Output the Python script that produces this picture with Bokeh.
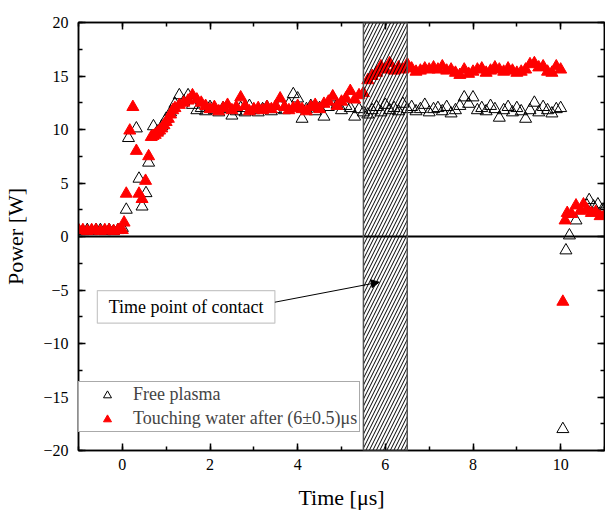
from bokeh.plotting import figure
from bokeh.models import (Range1d, LinearAxis, SingleIntervalTicker, Span, BoxAnnotation,
                          Label, Arrow, NormalHead, Legend, LegendItem)
from bokeh.embed import file_html
from bokeh.resources import INLINE

# ---------------- data ----------------
free_t = [-1.0, -0.9, -0.8, -0.7, -0.6, -0.5, -0.4, -0.3, -0.2, -0.1, 0.0,
          0.09, 0.14, 0.32, 0.38, 0.45, 0.54, 0.6, 0.71, 0.8, 0.9, 1.0, 1.1, 1.2, 1.3, 1.4, 1.5, 1.6, 1.7,
          1.8, 1.9, 2.0, 2.1, 2.2, 2.3, 2.4, 2.5, 2.6, 2.7, 2.8, 2.9, 3.0, 3.1, 3.2, 3.3, 3.4, 3.5, 3.6, 3.7,
          3.8, 3.9, 4.0, 4.1, 4.2, 4.3, 4.4, 4.5, 4.6, 4.7, 4.8, 4.9, 5.0, 5.1, 5.2, 5.3, 5.4, 5.5, 5.6, 5.7,
          5.8, 5.9, 6.0, 6.1, 6.2, 6.3, 6.4, 6.5, 6.6, 6.7, 6.8, 6.9, 7.0, 7.1, 7.2, 7.3, 7.4, 7.5, 7.6, 7.7,
          7.8, 7.9, 8.0, 8.1, 8.2, 8.3, 8.4, 8.5, 8.6, 8.7, 8.8, 8.9, 9.0, 9.1, 9.2, 9.3, 9.4, 9.5, 9.6, 9.7,
          9.8, 9.9, 10.0,
          10.05, 10.12, 10.2, 10.35, 10.5, 10.6, 10.65, 10.75, 10.85, 10.95, 11.0]
free_p = [0.6, 0.5, 0.6, 0.5, 0.6, 0.6, 0.5, 0.6, 0.5, 0.6, 0.8,
          2.5, 9.2, 10.1, 5.4, 2.8, 4.05, 6.9, 10.3, 9.8, 10.3, 11.0, 11.6, 12.4, 13.2, 12.6, 13.2, 12.3, 11.8,
          12.0, 11.7, 12.1, 11.8, 11.6, 12.0, 11.9, 11.3, 11.7, 12.0, 11.6, 12.2, 11.8, 11.6, 11.9, 12.1, 11.7, 11.9, 12.2, 11.8,
          12.4, 13.3, 12.9, 11.0, 11.9, 12.2, 11.7, 12.0, 11.2, 12.1, 13.0, 12.3, 11.8, 12.2, 12.0, 11.2, 11.9, 11.6, 11.4, 11.8,
          12.1, 11.6, 12.3, 11.8, 12.0, 11.7, 12.4, 11.9, 12.1, 11.7, 11.9, 12.3, 11.6, 11.9, 12.0, 11.7, 12.1, 11.5, 11.8, 12.2,
          13.0, 12.4, 13.0, 11.8, 12.0, 11.7, 12.2, 11.9, 11.1, 11.8, 12.1, 11.6, 12.0, 11.7, 11.0, 11.8, 12.5, 11.6, 12.1, 11.8,
          11.5, 11.9, 12.0,
          -18.0, -1.3, 0.1, 1.5, 2.6, 2.9, 3.4, 2.8, 3.0, 2.5, 2.6]

water_t = [-1.0, -0.9, -0.8, -0.7, -0.6, -0.5, -0.4, -0.3, -0.2, -0.1, 0.0,
           0.04, 0.09, 0.17, 0.24, 0.32, 0.38, 0.45, 0.53, 0.6, 0.66, 0.7, 0.75, 0.8, 0.85, 0.9, 0.95, 1.0,
           1.05, 1.1, 1.15, 1.2, 1.3, 1.4, 1.5, 1.6, 1.7,
           1.8, 1.9, 2.0, 2.1, 2.2, 2.3, 2.4, 2.5, 2.6, 2.7, 2.8, 2.9, 3.0, 3.1, 3.2, 3.3, 3.4, 3.5, 3.6, 3.7,
           3.8, 3.9, 4.0, 4.1, 4.2, 4.3, 4.4, 4.5, 4.6, 4.7, 4.8, 4.9, 5.0, 5.1, 5.2, 5.3, 5.4,
           5.5, 5.6, 5.7, 5.8, 5.9, 6.0, 6.1, 6.2, 6.3, 6.4, 6.5, 6.6, 6.7, 6.8, 6.9, 7.0, 7.1, 7.2, 7.3, 7.4,
           7.5, 7.6, 7.7, 7.8, 7.9, 8.0, 8.1, 8.2, 8.3, 8.4, 8.5, 8.6, 8.7, 8.8, 8.9, 9.0, 9.1, 9.2, 9.3, 9.4,
           9.5, 9.6, 9.7, 9.8, 9.9, 10.0,
           10.05, 10.1, 10.15, 10.25, 10.35, 10.45, 10.52, 10.6, 10.7, 10.8, 10.9, 11.0]
water_p = [0.6, 0.6, 0.5, 0.6, 0.6, 0.5, 0.6, 0.6, 0.5, 0.6, 0.6,
           1.3, 4.0, 9.9, 12.1, 8.0, 4.0, 3.5, 5.2, 7.5, 9.3, 9.4, 9.5, 9.7, 9.9, 10.1, 10.4, 10.7,
           11.0, 11.4, 11.8, 12.0, 12.3, 12.5, 12.7, 13.2, 12.8,
           12.5, 12.2, 11.9, 12.1, 11.7, 12.0, 12.3, 11.8, 12.1, 13.0, 12.2, 11.7, 11.9, 12.0, 11.8, 12.1, 11.9, 12.2, 12.9, 12.1,
           11.8, 12.0, 12.2, 11.9, 11.7, 12.1, 12.3, 11.9, 12.4, 12.6, 13.1, 12.2, 12.6, 12.9, 13.6, 12.8, 13.2,
           13.4, 14.6, 15.0, 15.3, 15.9, 15.6, 16.2, 15.5, 15.8, 15.6, 16.1, 15.7, 15.4, 15.5, 15.7, 15.6, 15.8, 15.6, 15.9, 15.5,
           15.6, 15.3, 15.1, 15.6, 15.2, 15.4, 15.6, 15.7, 15.3, 15.5, 15.8, 15.6, 15.4, 15.7, 15.5, 15.3, 15.4, 15.6, 16.1, 16.2,
           15.8, 15.9, 15.4, 15.3, 15.9, 15.6,
           -6.1, 1.5, 2.2, 2.1, 2.9, 2.4, 3.0, 2.5, 2.2, 2.3, 1.9, 2.0]

x_ticks_interval = 2
y_ticks_interval = 5
contact_band = (5.5, 6.5)
note_text = "Time point of contact"
note_box = (-0.57, 3.48, -5.05, -8.1)   # left, right, top, bottom (data units)
arrow_from = (3.48, -6.14)
arrow_to = (5.86, -4.27)
labels = ["Free plasma", "Touching water after (6\u00b10.5)\u03bcs"]

FONT = "Liberation Serif"

p = figure(width=605, height=514, x_range=Range1d(-1, 11), y_range=Range1d(-20, 20),
           output_backend="svg", toolbar_location=None,
           x_axis_type=None, y_axis_type=None,
           min_border_left=75, min_border_top=22, min_border_bottom=64, min_border_right=1)
p.grid.visible = False
p.outline_line_color = "black"
p.outline_line_width = 1.5
p.background_fill_color = "white"

bottom = LinearAxis(ticker=SingleIntervalTicker(interval=x_ticks_interval, num_minor_ticks=2),
                    axis_label="Time [\u03bcs]")
left = LinearAxis(ticker=SingleIntervalTicker(interval=y_ticks_interval, num_minor_ticks=2),
                  axis_label="Power [W]")
top = LinearAxis(ticker=SingleIntervalTicker(interval=x_ticks_interval, num_minor_ticks=2))
right = LinearAxis(ticker=SingleIntervalTicker(interval=y_ticks_interval, num_minor_ticks=2))
p.add_layout(bottom, "below")
p.add_layout(left, "left")
p.add_layout(top, "above")
p.add_layout(right, "right")

for ax in (bottom, left, top, right):
    ax.axis_line_color = "black"
    ax.axis_line_width = 1.5
    ax.major_tick_in = 7
    ax.major_tick_out = 0
    ax.minor_tick_in = 4
    ax.minor_tick_out = 0
    ax.major_tick_line_width = 1.5
    ax.minor_tick_line_width = 1.5
    ax.major_tick_line_color = "black"
    ax.minor_tick_line_color = "black"
for ax in (top, right):
    ax.major_label_text_color = None
    ax.major_label_text_font_size = "1px"
    ax.major_label_standoff = 0
for ax in (bottom, left):
    ax.major_label_text_font = FONT
    ax.major_label_text_font_size = "16px"
    ax.major_label_text_color = "black"
    ax.axis_label_text_font = FONT
    ax.axis_label_text_font_size = "22px"
    ax.axis_label_text_font_style = "normal"
    ax.axis_label_text_color = "black"
bottom.major_label_standoff = 8
bottom.axis_label_standoff = 12
left.major_label_standoff = 10
left.axis_label_standoff = 12

p.add_layout(Span(location=0, dimension="width", line_color="black", line_width=2))

r_free = p.scatter(free_t, free_p, marker="triangle", size=12, fill_alpha=0,
                   line_color="black", line_width=1)
r_water = p.scatter(water_t, water_p, marker="triangle", size=12, fill_color="red",
                    line_color="red", line_width=1)

band = BoxAnnotation(left=contact_band[0], right=contact_band[1], fill_alpha=0,
                     line_color="#555555", line_width=1.5, line_alpha=1,
                     hatch_pattern="/", hatch_color="black", hatch_weight=1, hatch_scale=7,
                     hatch_alpha=1)
p.add_layout(band)

legend = Legend(items=[LegendItem(label=labels[0], renderers=[r_free]),
                       LegendItem(label=labels[1], renderers=[r_water])],
                location=(0, 18), orientation="vertical",
                border_line_color="#555555", border_line_width=1,
                background_fill_color="white", background_fill_alpha=1,
                padding=2, spacing=3, margin=0, glyph_width=52, glyph_height=20,
                label_standoff=0, label_text_font=FONT, label_text_font_size="18px",
                label_height=20)
p.add_layout(legend)

note = BoxAnnotation(left=note_box[0], right=note_box[1], top=note_box[2], bottom=note_box[3],
                     fill_color="white", fill_alpha=1, line_color="#444444", line_width=1.2)
p.add_layout(note)
p.add_layout(Label(x=(note_box[0] + note_box[1]) / 2, y=(note_box[2] + note_box[3]) / 2,
                   text=note_text, text_align="center", text_baseline="middle",
                   text_font=FONT, text_font_size="18px", text_color="black"))
p.add_layout(Arrow(x_start=arrow_from[0], y_start=arrow_from[1], x_end=arrow_to[0], y_end=arrow_to[1],
                   line_color="black", line_width=1,
                   end=NormalHead(size=8, fill_color="black", line_color="black")))

open("out.html", "w").write(file_html(p, INLINE))
